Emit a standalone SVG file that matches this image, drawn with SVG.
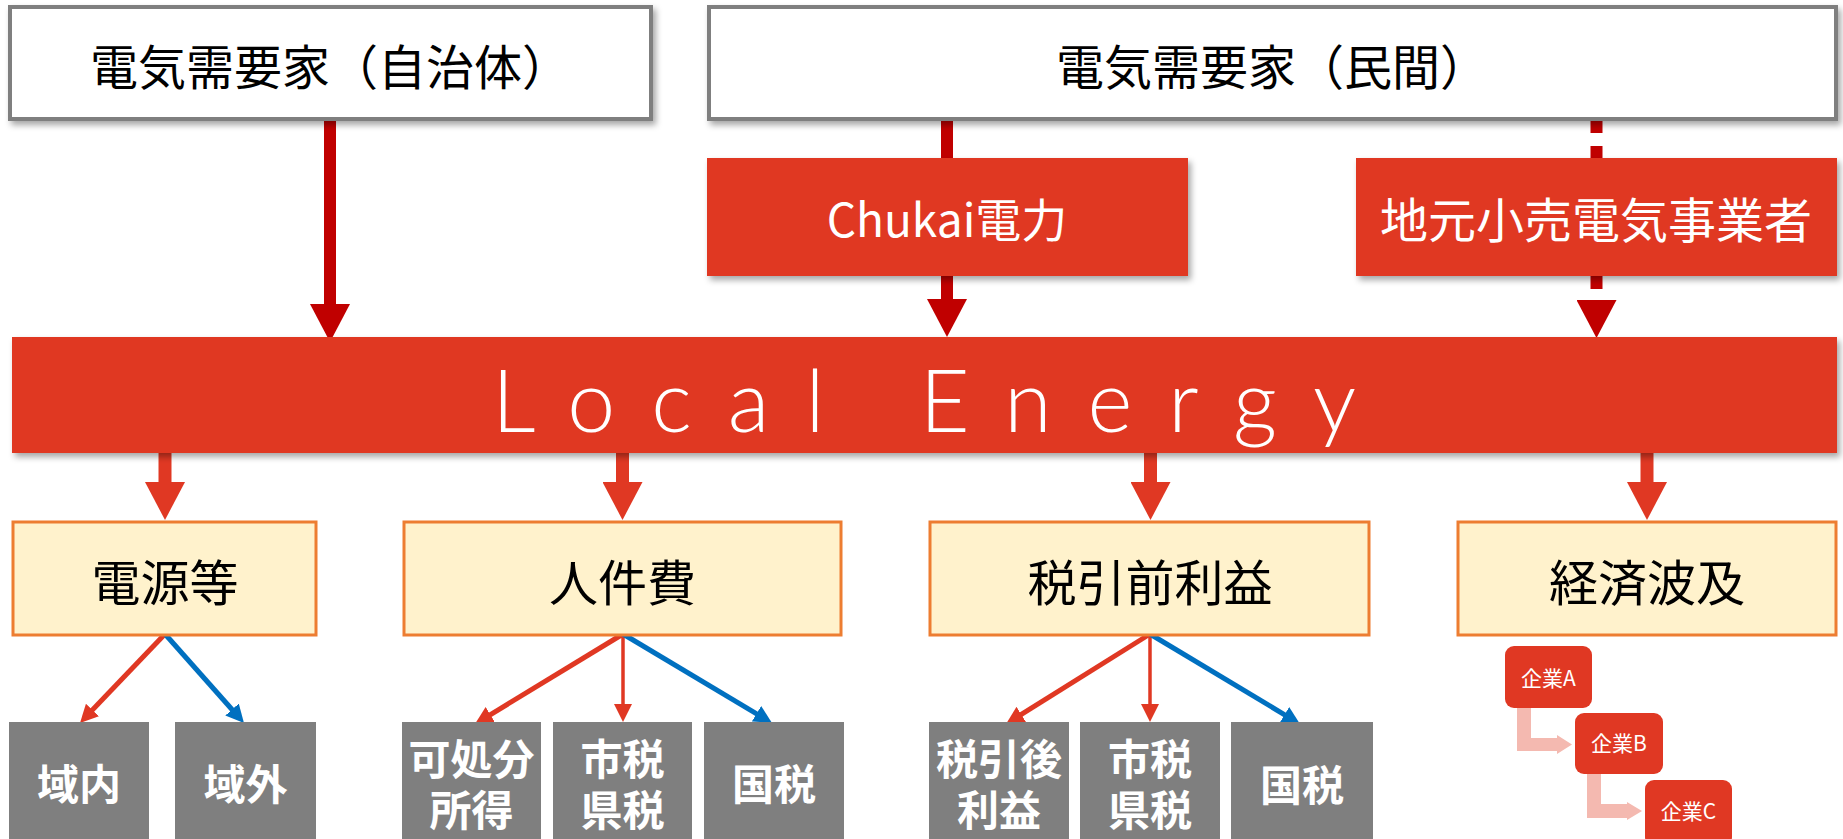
<svg xmlns="http://www.w3.org/2000/svg" width="1843" height="839" viewBox="0 0 1843 839">
<style>
.jp{font-family:"Noto Sans CJK JP","Noto Sans",sans-serif;}
.top{font-size:48px;fill:#000;text-anchor:middle;}
.wt{fill:#fff;text-anchor:middle;}
.yl{font-size:49px;fill:#000;text-anchor:middle;}
.gr{font-size:42px;fill:#fff;font-weight:700;text-anchor:middle;}
.co{font-size:21px;fill:#fff;text-anchor:middle;}
.wbox{fill:#fff;stroke:#7f7f7f;stroke-width:4;}
.rbox{fill:#e03823;}
.ybox{fill:#fff2cc;stroke:#ed7d31;stroke-width:3;}
.gbox{fill:#7f7f7f;}
.dk{stroke:#c00000;stroke-width:12;fill:none;}
.rd{stroke:#e03823;stroke-width:13;fill:none;}
.sr{stroke:#e03823;stroke-width:5;fill:none;}
.sv{stroke:#e03823;stroke-width:3.5;fill:none;}
.sb{stroke:#0070c0;stroke-width:5;fill:none;}
</style>
<defs>
<filter id="sh" x="-10%" y="-10%" width="120%" height="130%">
<feDropShadow dx="3" dy="4" stdDeviation="3" flood-color="#000" flood-opacity="0.35"/>
</filter>
<marker id="hDk" markerUnits="userSpaceOnUse" markerWidth="38" markerHeight="40" refX="8" refY="20" orient="auto">
<path d="M0,0 L38,20 L0,40 Z" fill="#c00000"/>
</marker>
<marker id="hRd" markerUnits="userSpaceOnUse" markerWidth="38" markerHeight="40" refX="8" refY="20" orient="auto">
<path d="M0,0 L38,20 L0,40 Z" fill="#e03823"/>
</marker>
<marker id="sRd" markerUnits="userSpaceOnUse" markerWidth="18" markerHeight="18" refX="6" refY="9" orient="auto">
<path d="M0,0 L18,9 L0,18 Z" fill="#e03823"/>
</marker>
<marker id="sBl" markerUnits="userSpaceOnUse" markerWidth="18" markerHeight="18" refX="6" refY="9" orient="auto">
<path d="M0,0 L18,9 L0,18 Z" fill="#0070c0"/>
</marker>
</defs>

<g id="connectors">
<line class="dk" x1="330" y1="120" x2="330" y2="312" marker-end="url(#hDk)"/>
<line class="dk" x1="947" y1="120" x2="947" y2="160"/>
<line class="dk" x1="947" y1="274" x2="947" y2="307" marker-end="url(#hDk)"/>
<line class="dk" x1="1596.5" y1="120" x2="1596.5" y2="160" stroke-dasharray="13 13"/>
<line class="dk" x1="1596.5" y1="276" x2="1596.5" y2="308" stroke-dasharray="13 13" marker-end="url(#hDk)"/>
<line class="rd" x1="165" y1="453" x2="165" y2="490" marker-end="url(#hRd)"/>
<line class="rd" x1="622.5" y1="453" x2="622.5" y2="490" marker-end="url(#hRd)"/>
<line class="rd" x1="1150.5" y1="453" x2="1150.5" y2="490" marker-end="url(#hRd)"/>
<line class="rd" x1="1647" y1="453" x2="1647" y2="490" marker-end="url(#hRd)"/>
<line class="sr" x1="165" y1="634" x2="88.3" y2="714.3" marker-end="url(#sRd)"/>
<line class="sb" x1="165" y1="634" x2="236" y2="714" marker-end="url(#sBl)"/>
<line class="sr" x1="623" y1="634" x2="485.2" y2="717.8" marker-end="url(#sRd)"/>
<line class="sv" x1="623" y1="634" x2="623" y2="710" marker-end="url(#sRd)"/>
<line class="sb" x1="623" y1="634" x2="761.7" y2="716.8" marker-end="url(#sBl)"/>
<line class="sr" x1="1150" y1="634" x2="1016.2" y2="717.6" marker-end="url(#sRd)"/>
<line class="sv" x1="1150" y1="634" x2="1150" y2="710" marker-end="url(#sRd)"/>
<line class="sb" x1="1150" y1="634" x2="1289.7" y2="717.8" marker-end="url(#sBl)"/>
<polygon fill="#f4b9b0" points="1517,708 1531,708 1531,738 1557,738 1557,735 1572,744.5 1557,754 1557,751 1517,751"/>
<polygon fill="#f4b9b0" points="1587,774 1601,774 1601,804 1627,804 1627,802 1642,811 1627,820 1627,818 1587,818"/>
</g>

<g id="demand-local">
<rect class="wbox" x="10" y="7" width="641" height="112" filter="url(#sh)"/>
<text class="jp top" x="330" y="85">電気需要家（自治体）</text>
</g>
<g id="demand-private">
<rect class="wbox" x="709" y="7" width="1127" height="112" filter="url(#sh)"/>
<text class="jp top" x="1272" y="85">電気需要家（民間）</text>
</g>
<g id="chukai">
<rect class="rbox" x="707" y="158" width="481" height="118" filter="url(#sh)"/>
<text class="jp wt" x="947" y="237" font-size="46">Chukai電力</text>
</g>
<g id="jimoto">
<rect class="rbox" x="1356" y="158" width="481" height="118" filter="url(#sh)"/>
<text class="jp wt" x="1596" y="238" font-size="48">地元小売電気事業者</text>
</g>
<g id="local-energy">
<rect class="rbox" x="12" y="337" width="1825" height="116" filter="url(#sh)"/>
<text x="492" y="432" font-family="Lato, 'Open Sans', sans-serif" font-weight="300" font-size="86" fill="#fff" letter-spacing="36">Local Energy</text>
</g>

<g id="dengen">
<rect class="ybox" x="13" y="522" width="303" height="113"/>
<text class="jp yl" x="165" y="601">電源等</text>
</g>
<g id="jinkenhi">
<rect class="ybox" x="404" y="522" width="437" height="113"/>
<text class="jp yl" x="622.5" y="601">人件費</text>
</g>
<g id="zeibikimae">
<rect class="ybox" x="930" y="522" width="439" height="113"/>
<text class="jp yl" x="1150" y="601">税引前利益</text>
</g>
<g id="keizai">
<rect class="ybox" x="1458" y="522" width="378" height="113"/>
<text class="jp yl" x="1647" y="601">経済波及</text>
</g>

<g id="ikinai">
<rect class="gbox" x="9" y="722" width="140" height="120"/>
<text class="jp gr" x="79" y="800">域内</text>
</g>
<g id="ikigai">
<rect class="gbox" x="175" y="722" width="141" height="120"/>
<text class="jp gr" x="245.5" y="800">域外</text>
</g>
<g id="kashobun">
<rect class="gbox" x="402" y="722" width="139" height="120"/>
<text class="jp gr" x="471.5" y="775">可処分</text>
<text class="jp gr" x="471.5" y="826">所得</text>
</g>
<g id="shizei1">
<rect class="gbox" x="553" y="722" width="139" height="120"/>
<text class="jp gr" x="622.5" y="775">市税</text>
<text class="jp gr" x="622.5" y="826">県税</text>
</g>
<g id="kokuzei1">
<rect class="gbox" x="704" y="722" width="140" height="120"/>
<text class="jp gr" x="774" y="800">国税</text>
</g>
<g id="zeibikigo">
<rect class="gbox" x="929" y="722" width="140" height="120"/>
<text class="jp gr" x="999" y="775">税引後</text>
<text class="jp gr" x="999" y="826">利益</text>
</g>
<g id="shizei2">
<rect class="gbox" x="1080" y="722" width="140" height="120"/>
<text class="jp gr" x="1150" y="775">市税</text>
<text class="jp gr" x="1150" y="826">県税</text>
</g>
<g id="kokuzei2">
<rect class="gbox" x="1231" y="722" width="142" height="120"/>
<text class="jp gr" x="1302" y="801">国税</text>
</g>

<g id="kigyoA">
<rect class="rbox" x="1505" y="646" width="87" height="62" rx="9"/>
<text class="jp co" x="1548.5" y="685.5">企業A</text>
</g>
<g id="kigyoB">
<rect class="rbox" x="1575" y="713" width="88" height="61" rx="9"/>
<text class="jp co" x="1619" y="751">企業B</text>
</g>
<g id="kigyoC">
<rect class="rbox" x="1645" y="780" width="87" height="66" rx="9"/>
<text class="jp co" x="1688.5" y="819">企業C</text>
</g>
</svg>
